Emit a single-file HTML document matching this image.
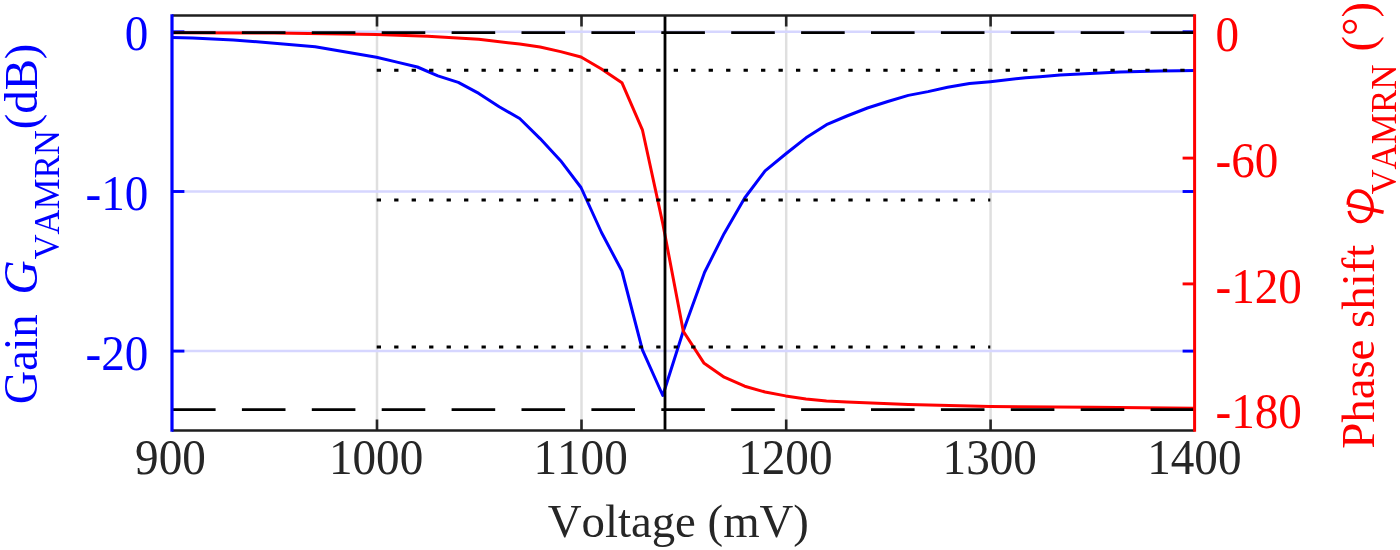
<!DOCTYPE html>
<html><head><meta charset="utf-8"><style>
html,body{margin:0;padding:0;background:#fff;width:1400px;height:550px;overflow:hidden;}
svg{display:block;font-family:"Liberation Serif",serif;font-kerning:none;will-change:transform;}
</style></head><body>
<svg width="1400" height="550" viewBox="0 0 1400 550">
<rect width="1400" height="550" fill="#fff"/>
<line x1="377.0" y1="15.5" x2="377.0" y2="430.5" stroke="#dfdfdf" stroke-width="2.5"/>
<line x1="581.5" y1="15.5" x2="581.5" y2="430.5" stroke="#dfdfdf" stroke-width="2.5"/>
<line x1="786.2" y1="15.5" x2="786.2" y2="430.5" stroke="#dfdfdf" stroke-width="2.5"/>
<line x1="990.6" y1="15.5" x2="990.6" y2="430.5" stroke="#dfdfdf" stroke-width="2.5"/>
<line x1="172.0" y1="31.8" x2="1194.6" y2="31.8" stroke="#d6d6ff" stroke-width="2.5"/>
<line x1="172.0" y1="191.5" x2="1194.6" y2="191.5" stroke="#d6d6ff" stroke-width="2.5"/>
<line x1="172.0" y1="351.1" x2="1194.6" y2="351.1" stroke="#d6d6ff" stroke-width="2.5"/>
<line x1="377.0" y1="15.5" x2="377.0" y2="26.5" stroke="#262626" stroke-width="2.6"/>
<line x1="377.0" y1="430.5" x2="377.0" y2="419.5" stroke="#262626" stroke-width="2.6"/>
<line x1="581.5" y1="15.5" x2="581.5" y2="26.5" stroke="#262626" stroke-width="2.6"/>
<line x1="581.5" y1="430.5" x2="581.5" y2="419.5" stroke="#262626" stroke-width="2.6"/>
<line x1="786.2" y1="15.5" x2="786.2" y2="26.5" stroke="#262626" stroke-width="2.6"/>
<line x1="786.2" y1="430.5" x2="786.2" y2="419.5" stroke="#262626" stroke-width="2.6"/>
<line x1="990.6" y1="15.5" x2="990.6" y2="26.5" stroke="#262626" stroke-width="2.6"/>
<line x1="990.6" y1="430.5" x2="990.6" y2="419.5" stroke="#262626" stroke-width="2.6"/>
<line x1="172.0" y1="31.8" x2="184.4" y2="31.8" stroke="#0000ff" stroke-width="2.9"/>
<line x1="1182.6" y1="31.8" x2="1194.6" y2="31.8" stroke="#0000ff" stroke-width="2.9"/>
<line x1="172.0" y1="191.5" x2="184.4" y2="191.5" stroke="#0000ff" stroke-width="2.9"/>
<line x1="1182.6" y1="191.5" x2="1194.6" y2="191.5" stroke="#0000ff" stroke-width="2.9"/>
<line x1="172.0" y1="351.1" x2="184.4" y2="351.1" stroke="#0000ff" stroke-width="2.9"/>
<line x1="1182.6" y1="351.1" x2="1194.6" y2="351.1" stroke="#0000ff" stroke-width="2.9"/>
<line x1="1182.6" y1="158.1" x2="1194.6" y2="158.1" stroke="#ff0000" stroke-width="2.9"/>
<line x1="1182.6" y1="283.9" x2="1194.6" y2="283.9" stroke="#ff0000" stroke-width="2.9"/>
<polyline points="172.0,37.6 192.5,38.1 233.4,39.9 315.2,46.7 376.5,57.3 397.0,62.1 417.4,67.0 437.9,75.9 458.3,82.4 478.8,93.4 499.2,106.7 519.7,118.5 540.1,138.6 560.6,160.7 581.0,187.5 601.5,232.5 621.9,271.0 642.4,349.8 662.8,395.5 683.3,331.0 704.6,272.2 724.2,233.4 744.7,198.0 765.1,170.8 785.6,154.0 806.0,137.8 826.5,124.7 846.9,116.0 867.4,108.0 887.8,101.5 908.3,95.4 928.0,91.6 947.6,87.3 969.5,83.6 990.3,81.7 1025.7,77.7 1040.0,76.7 1060.0,75.1 1080.0,73.9 1100.0,72.9 1120.0,72.1 1140.0,71.6 1160.0,71.0 1180.0,70.8 1194.6,70.6" fill="none" stroke="#0000ff" stroke-width="3.0" stroke-linejoin="round"/>
<polyline points="172.0,32.7 274.3,33.1 376.5,34.4 427.6,36.3 478.8,39.3 519.7,44.0 540.1,47.0 560.6,51.6 581.0,57.0 601.5,69.0 621.9,82.7 642.4,129.8 662.8,223.6 683.3,331.2 703.8,362.9 724.2,377.2 744.7,386.2 765.1,392.0 785.6,395.9 806.0,399.1 826.5,400.9 846.9,402.1 908.3,404.4 990.1,406.4 1092.3,407.3 1194.6,408.3" fill="none" stroke="#ff0000" stroke-width="3.0" stroke-linejoin="round"/>
<line x1="172.0" y1="32.7" x2="1194.6" y2="32.7" stroke="#000" stroke-width="2.8" stroke-dasharray="43.6 26.3"/>
<line x1="172.0" y1="409.6" x2="1194.6" y2="409.6" stroke="#000" stroke-width="2.8" stroke-dasharray="43.6 26.3"/>
<line x1="376.7" y1="70.2" x2="1194.6" y2="70.2" stroke="#000" stroke-width="3.0" stroke-dasharray="4.3 13.17"/>
<line x1="376.7" y1="200.0" x2="990.3" y2="200.0" stroke="#000" stroke-width="3.0" stroke-dasharray="4.3 13.17"/>
<line x1="376.7" y1="347.1" x2="990.3" y2="347.1" stroke="#000" stroke-width="3.0" stroke-dasharray="4.3 13.17"/>
<line x1="665" y1="15.5" x2="665" y2="430.5" stroke="#000" stroke-width="2.8"/>
<line x1="172.0" y1="15.5" x2="1194.6" y2="15.5" stroke="#1e1e1e" stroke-width="2.6"/>
<line x1="172.0" y1="430.5" x2="1194.6" y2="430.5" stroke="#1e1e1e" stroke-width="2.6"/>
<line x1="172.0" y1="14.2" x2="172.0" y2="431.8" stroke="#0000ff" stroke-width="3.2"/>
<line x1="1194.6" y1="14.2" x2="1194.6" y2="431.8" stroke="#ff0000" stroke-width="3"/>
<text transform="translate(124.80,50.26) scale(0.963,1.05)" font-size="49" fill="#0000ff">0</text>
<text transform="translate(85.50,209.91) scale(0.963,1.05)" font-size="49" fill="#0000ff">-10</text>
<text transform="translate(85.50,369.56) scale(0.963,1.05)" font-size="49" fill="#0000ff">-20</text>
<text transform="translate(1215.40,51.06) scale(0.963,1.05)" font-size="49" fill="#ff0000">0</text>
<text transform="translate(1215.45,176.80) scale(0.963,1.05)" font-size="49" fill="#ff0000">-60</text>
<text transform="translate(1215.45,302.55) scale(0.963,1.05)" font-size="49" fill="#ff0000">-120</text>
<text transform="translate(1215.45,428.30) scale(0.963,1.05)" font-size="49" fill="#ff0000">-180</text>
<text transform="translate(135.05,474.46) scale(0.963,1.05)" font-size="49" fill="#262626">900</text>
<text transform="translate(328.94,474.46) scale(0.963,1.05)" font-size="49" fill="#262626">1000</text>
<text transform="translate(533.44,474.46) scale(0.963,1.05)" font-size="49" fill="#262626">1100</text>
<text transform="translate(738.14,474.46) scale(0.963,1.05)" font-size="49" fill="#262626">1200</text>
<text transform="translate(942.54,474.46) scale(0.963,1.05)" font-size="49" fill="#262626">1300</text>
<text transform="translate(1147.14,474.46) scale(0.963,1.05)" font-size="49" fill="#262626">1400</text>
<text transform="translate(547.77,536.80) scale(0.955,0.965)" font-size="49" fill="#262626">Voltage (mV)</text>
<text transform="translate(36.92,404.30) rotate(-90) scale(0.9449,1.0024)" font-size="49" fill="#0000ff">Gain</text>
<text transform="translate(36.97,294.82) rotate(-90) scale(0.9706,0.9886)" font-size="49" font-style="italic" fill="#0000ff">G</text>
<text transform="translate(58.85,259.59) rotate(-90) scale(0.9394,0.9766)" font-size="37" fill="#0000ff">VAMRN</text>
<text transform="translate(36.72,129.25) rotate(-90) scale(0.9543,0.9566)" font-size="49" fill="#0000ff">(dB)</text>
<text transform="translate(1373.55,448.75) rotate(-90) scale(0.9548,0.9463)" font-size="49" fill="#ff0000">Phase shift</text>
<path d="M1349.0 210.8 C1350.6 218.2 1355.6 221.8 1361.0 221.7 C1367.6 221.5 1372.4 215.2 1372.3 207.0 C1372.1 197.8 1365.4 191.0 1358.0 191.0 C1351.6 191.1 1348.0 197.2 1348.2 204.8" fill="none" stroke="#ff0000" stroke-width="3.3"/>
<path d="M1348.2 204.8 L1383.6 212.3" fill="none" stroke="#ff0000" stroke-width="3.6"/>
<text transform="translate(1395.54,194.59) rotate(-90) scale(0.9438,0.9926)" font-size="37" fill="#ff0000">VAMRN</text>
<text transform="translate(1373.53,51.44) rotate(-90) scale(0.9473,0.9363)" font-size="49" fill="#ff0000">(°)</text>
</svg>
</body></html>
